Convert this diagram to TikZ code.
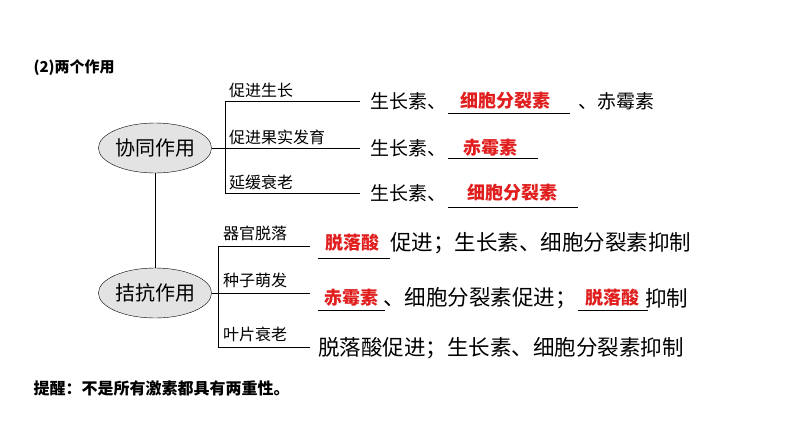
\documentclass[tikz,border=0pt]{standalone}
\usepackage{fontspec}
\setmainfont{Noto Sans CJK SC}
\usetikzlibrary{positioning,shapes.geometric}
\definecolor{ansred}{RGB}{225,30,30}
\tikzset{
  role/.style={ellipse, draw, fill=gray!22, minimum width=104pt, minimum height=50pt, inner sep=0pt, font=\fontsize{20}{20}\selectfont},
  effect/.style={anchor=south west, inner sep=1pt, font=\fontsize{16}{16}\selectfont},
  row/.style={anchor=west, inner sep=0pt, font=\fontsize{19}{19}\selectfont},
  rowb/.style={anchor=west, inner sep=0pt, font=\fontsize{21.5}{21.5}\selectfont},
  answer/.style={text=ansred, font=\bfseries\fontsize{18}{18}\selectfont, inner sep=0pt},
}
\begin{document}
\begin{tikzpicture}[x=1pt,y=-1pt]
  \useasboundingbox (0,0) rectangle (794,447);
  \node[anchor=west, font=\bfseries\fontsize{15}{15}\selectfont] (title) at (30,68) {(2)两个作用};

  % synergy branch
  \node[role] (syn) at (155,148) {协同作用};
  \node[role] (ant) at (155,293) {拮抗作用};
  \draw (syn) -- (ant);
  \coordinate (sj) at (225,148);
  \draw (syn.east) -- (sj);
  \draw (225,101) -- (225,193);
  \foreach \y/\t in {101/促进生长, 148/促进果实发育, 193/延缓衰老}{
    \draw (225,\y) -- (360,\y);
    \node[effect] at (228,\y-2) {\t};
  }
  \node[row] (s1) at (370,101) {生长素、};
  \node[answer] (a1) at (505,101) {细胞分裂素};
  \draw (448,113) -- (570,113);
  \node[row] at (578,101) {、赤霉素};
  \node[row] (s2) at (370,148) {生长素、};
  \node[answer] (a2) at (490,148) {赤霉素};
  \draw (448,158) -- (538,158);
  \node[row] (s3) at (370,193) {生长素、};
  \node[answer] (a3) at (512,193) {细胞分裂素};
  \draw (448,207) -- (578,207);

  % antagonism branch
  \draw (ant.east) -- (218,293);
  \draw (218,246) -- (218,347);
  \foreach \y/\t in {246/器官脱落, 293/种子萌发, 347/叶片衰老}{
    \draw (218,\y) -- (310,\y);
    \node[effect] at (222,\y-4) {\t};
  }
  \node[answer] (b1) at (352,243) {脱落酸};
  \draw (318,258) -- (390,258);
  \node[rowb] at (390,243) {促进；生长素、细胞分裂素抑制};
  \node[answer] (b2) at (351,298) {赤霉素};
  \draw (318,310) -- (385,310);
  \node[rowb] at (383,298) {、细胞分裂素促进；};
  \node[answer] (b3) at (612,298) {脱落酸};
  \draw (578,310) -- (648,310);
  \node[rowb] at (645,298) {抑制};
  \node[rowb] at (318,348) {脱落酸促进；生长素、细胞分裂素抑制};

  \node[anchor=west, font=\bfseries\fontsize{16}{16}\selectfont] (note) at (30,388) {提醒：不是所有激素都具有两重性。};
\end{tikzpicture}
\end{document}
